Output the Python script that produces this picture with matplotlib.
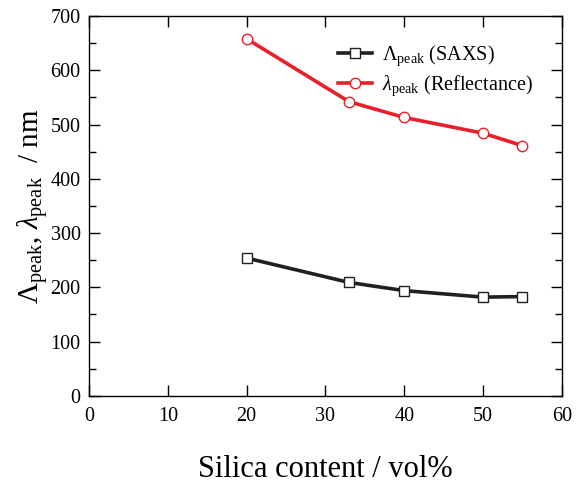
import matplotlib
matplotlib.use('Agg')
import matplotlib.pyplot as plt
from matplotlib.ticker import MultipleLocator

# data
silica = [20, 33, 40, 50, 55]
saxs_peak = [254, 209, 194, 182, 183]
refl_peak = [658, 542, 513, 484, 461]

plt.rcParams['font.family'] = ['Liberation Serif', 'DejaVu Serif']
plt.rcParams['mathtext.fontset'] = 'custom'
plt.rcParams['mathtext.rm'] = 'Liberation Serif'
plt.rcParams['mathtext.it'] = 'Liberation Serif:italic'

fig = plt.figure(figsize=(5.76, 4.84), dpi=100)
ax = fig.add_axes([0.1545, 0.182, 0.821, 0.785])

ax.plot(silica, saxs_peak, '-s', color='#231f20', lw=2.6, ms=7.5,
        mfc='white', mec='#231f20', mew=1.0, label=r'$\Lambda_{\rm peak}$ (SAXS)')
ax.plot(silica, refl_peak, '-o', color='#e8202a', lw=2.6, ms=7.5,
        mfc='white', mec='#e8202a', mew=1.0, label=r'$\lambda_{\rm peak}$ (Reflectance)')

ax.set_xlim(0, 60)
ax.set_ylim(0, 700)
ax.xaxis.set_major_locator(MultipleLocator(10))
ax.yaxis.set_major_locator(MultipleLocator(100))
ax.yaxis.set_minor_locator(MultipleLocator(50))
ax.tick_params(which='both', direction='in', top=True, right=True, labelsize=14.5, width=1.0)
ax.tick_params(which='major', length=8)
ax.tick_params(which='minor', length=5)
ax.tick_params(axis='x', pad=8)
ax.tick_params(axis='y', pad=6)
for s in ax.spines.values():
    s.set_linewidth(1.0)

ax.set_xlabel('Silica content / vol%', fontsize=22, labelpad=21)
ax.set_ylabel(r'$\Lambda_{\rm peak}$, $\lambda_{\rm peak}$  / nm', fontsize=21, labelpad=0)

ax.legend(loc='upper right', bbox_to_anchor=(0.977, 0.975), frameon=False, fontsize=14.5,
          handlelength=1.7, handletextpad=0.5, labelspacing=0.25)

fig.savefig('out.png', dpi=100)
